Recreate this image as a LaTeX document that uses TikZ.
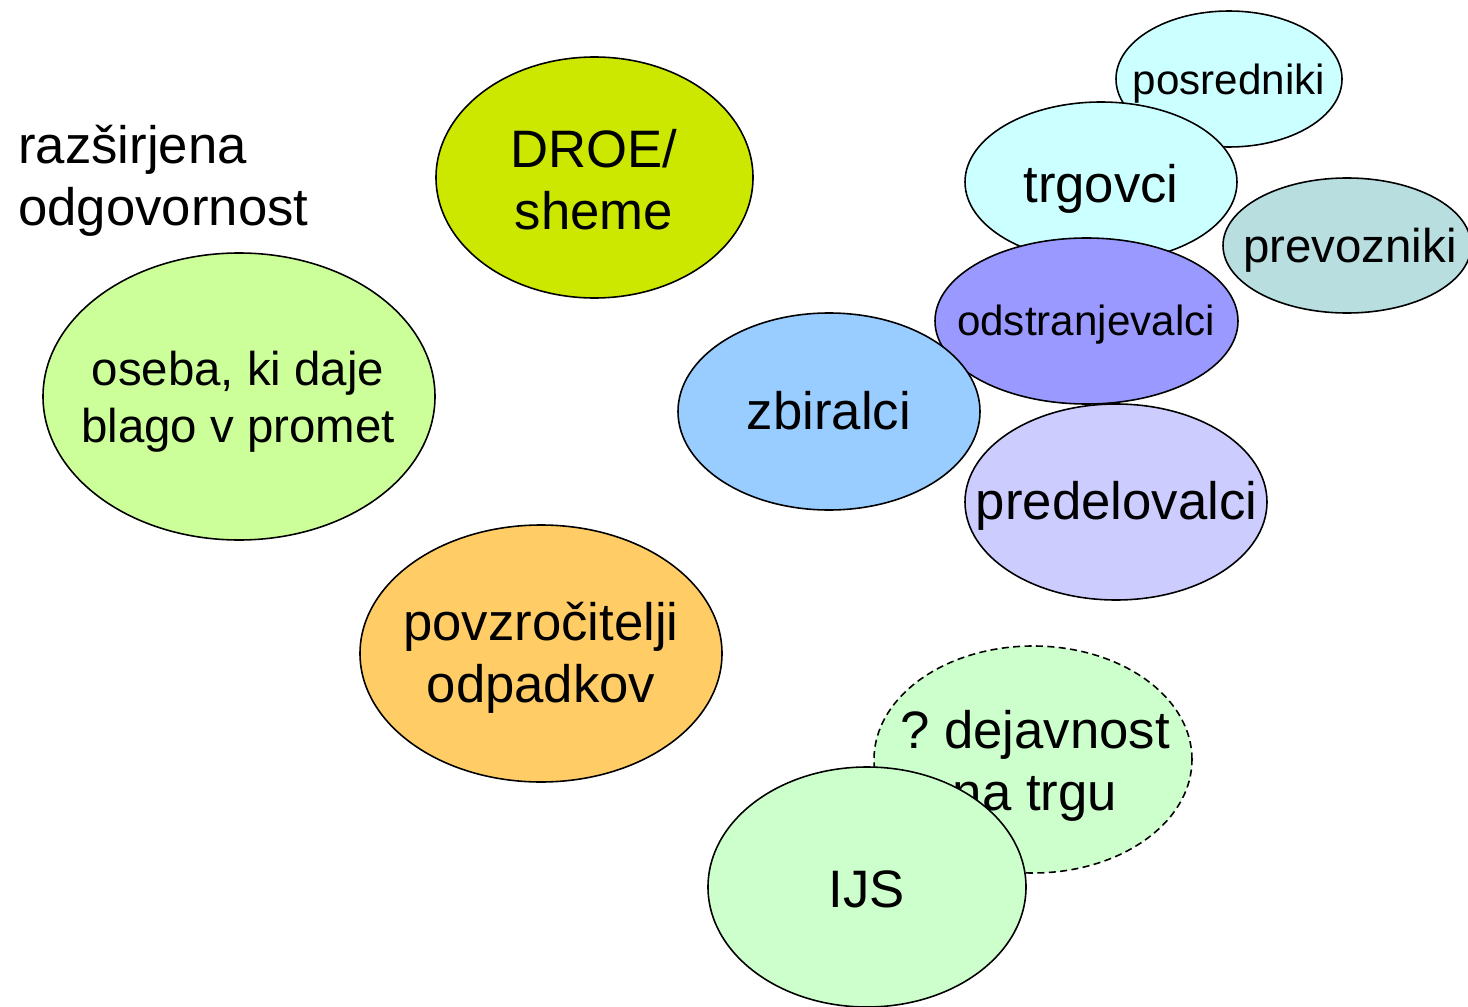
\documentclass[tikz,border=0pt]{standalone}
\usepackage{fontspec}
\setmainfont{Liberation Sans}
\frenchspacing
\usetikzlibrary{shapes.geometric}
\definecolor{droe}{RGB}{204,232,0}
\definecolor{oseba}{RGB}{204,255,153}
\definecolor{povz}{RGB}{255,204,102}
\definecolor{zbir}{RGB}{153,204,255}
\definecolor{odstr}{RGB}{153,153,255}
\definecolor{trg}{RGB}{204,255,255}
\definecolor{prev}{RGB}{184,222,224}
\definecolor{pred}{RGB}{204,204,255}
\definecolor{ijs}{RGB}{204,255,204}
\begin{document}
\begin{tikzpicture}[x=0.02cm, y=-0.02cm,
    blob/.style 2 args={ellipse, draw, line width=0.9pt, inner sep=0pt,
      minimum width=#1*0.02cm, minimum height=#2*0.02cm},
    big/.style={font=\fontsize{30}{35.3}\selectfont, align=center, inner sep=0pt},
    mid/.style={font=\fontsize{27}{32.4}\selectfont, align=center, inner sep=0pt},
    small/.style={font=\fontsize{24}{28}\selectfont, align=center, inner sep=0pt}]
  \useasboundingbox (0,0) rectangle (1468,1007);
  % left column
  \node [big, align=left, anchor=west] (raz) at (18,181) {razširjena\\odgovornost};
  \node [blob={317}{241}, fill=droe] (droe) at (594.5,177.5) {};
  \node [big] (droe-t) at (594,180) {DROE/\\sheme};
  \node [blob={392}{287}, fill=oseba] (oseba) at (239,396.5) {};
  \node [mid] (oseba-t) at (238,402) {oseba, ki daje\\blago v promet};
  \node [blob={362}{257}, fill=povz] (povz) at (541,653.5) {};
  \node [big] (povz-t) at (541,658) {povzročitelji\\odpadkov};
  % right cluster
  \node [blob={226}{136}, fill=trg] (posr) at (1229,79) {};
  \node [small] (posr-t) at (1229,84) {posredniki};
  \node [blob={272}{160}, fill=trg] (trg) at (1101,182) {};
  \node [big] (trg-t) at (1101,189) {trgovci};
  \node [blob={248}{135}, fill=prev] (prev) at (1347,245.5) {};
  \node [mid] (prev-t) at (1350,250) {prevozniki};
  \node [blob={303}{166}, fill=odstr] (odstr) at (1086.5,321) {};
  \node [small] (odstr-t) at (1086,325) {odstranjevalci};
  \node [blob={302}{197}, fill=zbir] (zbir) at (829,411.5) {};
  \node [big] (zbir-t) at (829,411) {zbiralci};
  \node [blob={302}{196}, fill=pred] (pred) at (1116,502) {};
  \node [big] (pred-t) at (1116.5,506) {predelovalci};
  % bottom
  \node [blob={318}{227}, fill=ijs, dash pattern=on 4pt off 2.5pt] (trgu) at (1033,759.5) {};
  \node [big] (trgu-t) at (1035,766) {? dejavnost\\na trgu};
  \node [blob={318}{240}, fill=ijs] (ijs) at (867,887) {};
  \node [big] (ijs-t) at (867,889) {IJS};
\end{tikzpicture}
\end{document}
